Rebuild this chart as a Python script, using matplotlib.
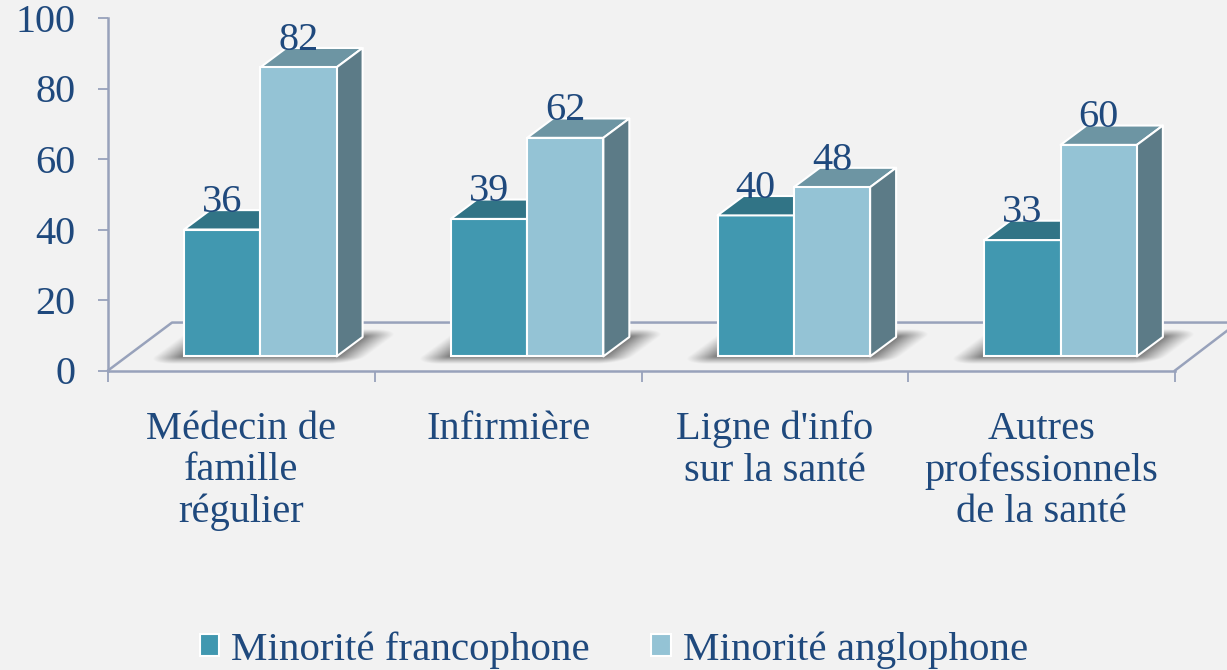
import numpy as np
import matplotlib
matplotlib.use('Agg')
import matplotlib.pyplot as plt
from matplotlib.patches import Polygon, Patch

categories = ["Médecin de\nfamille\nrégulier", "Infirmière", "Ligne d'info\nsur la santé",
              "Autres\nprofessionnels\nde la santé"]
francophone = [36, 39, 40, 33]
anglophone = [82, 62, 48, 60]
series_names = ["Minorité francophone", "Minorité anglophone"]
y_ticks = [0, 20, 40, 60, 80, 100]

BG = '#f2f2f2'
TEXT = '#1f497d'
AXIS = '#98a2bb'
DARK, DARK_TOP = '#4198b0', '#317486'
LIGHT, LIGHT_TOP, LIGHT_SIDE = '#94c3d5', '#6d95a3', '#5c7b87'

# 3d look, in data units
BASE = 4.0
DX, DY = 0.0975, 5.5
BAR_W = 0.286
OFFSET = 0.285
FLOOR_X, FLOOR_Y = 0.24, 13.6

plt.rcParams['font.family'] = ['Liberation Serif', 'DejaVu Serif']

W, H = 1227, 670
fig = plt.figure(figsize=(W / 100, H / 100), dpi=100, facecolor=BG)
ax = fig.add_axes([108 / W, (H - 370.5) / H, (1175 - 108) / W, 352.5 / H], facecolor='none')


def face(pts, color, z):
    ax.add_patch(Polygon(pts, closed=True, fc=color, ec='white', lw=1.5, zorder=z, clip_on=False,
                         joinstyle='round'))


def shadow(x0, x1):
    # blurred footprint of a pair of bars, fades out more sideways than up and down
    xs = np.linspace(x0 - 0.15, x1 + DX + 0.15, 260)
    ys = np.linspace(BASE - 3, BASE + DY + 5, 60)
    gx, gy = np.meshgrid(xs, ys)
    u = gx - (gy - BASE) * DX / DY
    du = np.maximum(np.maximum(x0 - u, u - x1), 0) * 266.75
    dv = np.maximum(np.maximum(BASE - gy, gy - BASE - DY), 0) * 3.525
    d = np.hypot(du / 30, dv / 8)
    rgba = np.zeros(gx.shape + (4,))
    rgba[..., :3] = 0.3
    rgba[..., 3] = 0.75 * np.clip(1 - d, 0, 1) ** 1.1
    ax.imshow(rgba, extent=[xs[0], xs[-1], ys[0], ys[-1]], origin='lower', aspect='auto',
              zorder=2, clip_on=False, interpolation='bilinear')


# floor
ax.plot([0, FLOOR_X, 4.2], [0, FLOOR_Y, FLOOR_Y], color=AXIS, lw=1.8, zorder=1, clip_on=False)
ax.plot([4, 4.2], [0, FLOOR_Y * 0.85], color=AXIS, lw=1.8, zorder=1, clip_on=False)

x = np.arange(len(categories))
for i in x:
    x0 = i + OFFSET
    x1 = x0 + 2 * BAR_W
    shadow(x0, x1)

    v = francophone[i]
    top = BASE + v
    xr = x0 + BAR_W
    ax.bar(x0, v, BAR_W, bottom=BASE, align='edge', color=DARK, edgecolor='white', lw=1.5, zorder=3)
    face([(x0, top), (xr, top), (xr + DX, top + DY), (x0 + DX, top + DY)], DARK_TOP, 3)
    ax.text(x0 + BAR_W / 2, top + 5.0, str(v), ha='center', va='baseline', fontsize=29, color=TEXT, zorder=6)

    v = anglophone[i]
    top = BASE + v
    ax.bar(xr, v, BAR_W, bottom=BASE, align='edge', color=LIGHT, edgecolor='white', lw=1.5, zorder=5)
    face([(xr, top), (x1, top), (x1 + DX, top + DY), (xr + DX, top + DY)], LIGHT_TOP, 4)
    face([(x1, BASE), (x1 + DX, BASE + DY), (x1 + DX, top + DY), (x1, top)], LIGHT_SIDE, 4)
    ax.text(xr + BAR_W / 2, top + 5.0, str(v), ha='center', va='baseline', fontsize=29, color=TEXT, zorder=6)

ax.set_xlim(0, 4)
ax.set_ylim(0, 100)

for s in ['top', 'right']:
    ax.spines[s].set_visible(False)
for s in ['left', 'bottom']:
    ax.spines[s].set_color(AXIS)
    ax.spines[s].set_linewidth(1.8)

ax.set_yticks(y_ticks)
ax.tick_params(axis='y', length=7.5, width=1.3, color=AXIS, labelcolor=TEXT, labelsize=29, pad=16)
ax.set_xticks(range(5))
ax.set_xticklabels([])
ax.tick_params(axis='x', which='major', length=8, width=1.3, color=AXIS)
ax.set_xticks(x + 0.5, minor=True)
ax.set_xticklabels(categories, minor=True, fontsize=29.2, color=TEXT, linespacing=1.16)
ax.tick_params(axis='x', which='minor', length=0, pad=29)

handles = [Patch(fc=DARK, ec='white', lw=1.5), Patch(fc=LIGHT, ec='white', lw=1.5)]
fig.legend(handles, series_names, ncol=2, loc='lower center', bbox_to_anchor=(614 / W, -19 / H),
           frameon=False, fontsize=29.5, labelcolor=TEXT, handlelength=0.47, handleheight=0.47,
           handletextpad=0.3, columnspacing=1.5, borderpad=0)

fig.savefig('out.png', dpi=100, facecolor=BG)
